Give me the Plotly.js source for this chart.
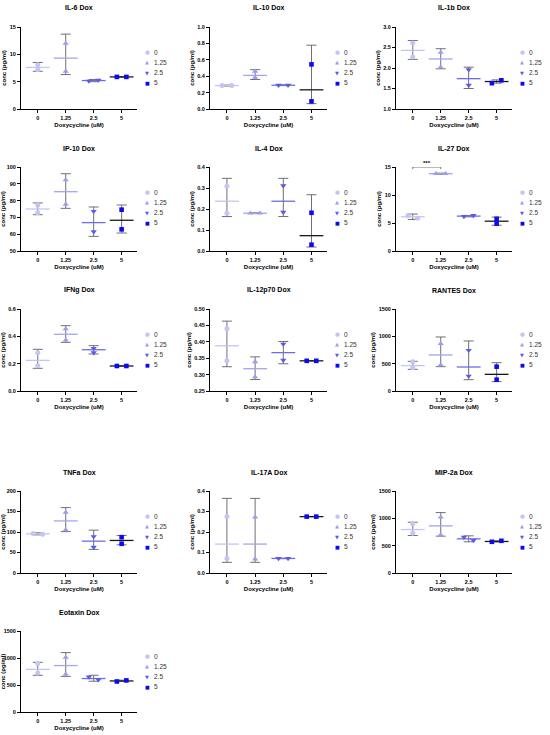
<!DOCTYPE html>
<html><head><meta charset="utf-8">
<script src="https://cdn.plot.ly/plotly-3.0.1.min.js"></script>
<style>html,body{margin:0;padding:0;background:#fff}#chart{width:550px;height:735px}</style>
</head><body><div id="chart"></div>
<script>
// ---------- data ----------
const categories = ["0", "1.25", "2.5", "5"];
const xAxisTitle = "Doxycycline (uM)";
const yAxisTitle = "conc (pg/ml)";
const panelTitles = ["IL-6 Dox","IL-10 Dox","IL-1b Dox","IP-10 Dox","IL-4 Dox","IL-27 Dox",
  "IFNg Dox","IL-12p70 Dox","RANTES Dox","TNFa Dox","IL-17A Dox","MIP-2a Dox","Eotaxin Dox"];
const yMin  = [0, 0, 1.0, 50, 0, 0, 0, 0.25, 0, 0, 0, 0, 0];
const yMax  = [15, 1.0, 3.0, 100, 0.4, 15, 0.6, 0.50, 1500, 200, 0.4, 1500, 1500];
const yStep = [5, 0.2, 0.5, 10, 0.1, 5, 0.2, 0.05, 500, 50, 0.1, 500, 500];
const yFormat = ["", ".1f", ".1f", "", ".1f", "", ".1f", ".2f", "", "", ".1f", "", ""];

// points (two replicates per group), mean line, error bar low / high
const il6Points = [[8.1, 7.2], [12.0, 6.9], [5.1, 5.3], [5.87, 5.87]];
const il6Mean = [7.6, 9.3, 5.2, 5.87];
const il6Low  = [6.9, 6.3, 5.0, 5.8];
const il6High = [8.5, 13.7, 5.4, 5.95];

const il10Points = [[0.286, 0.286], [0.46, 0.385], [0.29, 0.29], [0.544, 0.093]];
const il10Mean = [0.286, 0.41, 0.29, 0.234];
const il10Low  = [0.28, 0.36, 0.285, 0.065];
const il10High = [0.292, 0.48, 0.295, 0.778];

const il1bPoints = [[2.61, 2.27], [2.38, 2.02], [1.96, 1.58], [1.63, 1.70]];
const il1bMean = [2.43, 2.22, 1.74, 1.67];
const il1bLow  = [2.21, 1.98, 1.50, 1.63];
const il1bHigh = [2.67, 2.47, 2.02, 1.71];

const ip10Points = [[77.4, 72.8], [92.3, 77.8], [73.6, 61.5], [74.6, 62.9]];
const ip10Mean = [75.0, 85.3, 66.9, 68.3];
const ip10Low  = [71.6, 75.4, 58.7, 60.7];
const ip10High = [78.6, 96.0, 76.2, 77.4];

const il4Points = [[0.308, 0.18], [0.18, 0.18], [0.311, 0.185], [0.182, 0.030]];
const il4Mean = [0.237, 0.18, 0.237, 0.073];
const il4Low  = [0.164, 0.178, 0.164, 0.019];
const il4High = [0.346, 0.182, 0.346, 0.268];

const il27Points = [[6.35, 5.87], [13.8, 13.8], [6.17, 6.35], [5.75, 4.9]];
const il27Mean = [6.11, 13.8, 6.23, 5.32];
const il27Low  = [5.63, 13.7, 6.1, 4.6];
const il27High = [6.6, 13.9, 6.35, 6.05];
const il27Significance = {from: "0", to: "1.25", label: "***"};

const ifngPoints = [[0.28, 0.185], [0.454, 0.373], [0.312, 0.28], [0.183, 0.183]];
const ifngMean = [0.224, 0.415, 0.302, 0.183];
const ifngLow  = [0.166, 0.356, 0.271, 0.181];
const ifngHigh = [0.305, 0.478, 0.332, 0.185];

const il12Points = [[0.44, 0.342], [0.339, 0.293], [0.393, 0.344], [0.342, 0.342]];
const il12Mean = [0.388, 0.318, 0.367, 0.342];
const il12Low  = [0.324, 0.285, 0.333, 0.341];
const il12High = [0.463, 0.354, 0.401, 0.343];

const rantesPoints = [[537, 427], [866, 476], [744, 274], [445, 207]];
const rantesMean = [463, 659, 439, 305];
const rantesLow  = [396, 445, 207, 171];
const rantesHigh = [543, 988, 915, 518];

const tnfaPoints = [[96.4, 94.7], [148, 105], [89, 63], [87.4, 71.3]];
const tnfaMean = [95.5, 127, 77.7, 79.4];
const tnfaLow  = [93, 101, 57.5, 68.8];
const tnfaHigh = [98, 159.5, 104.5, 91.5];

const il17aPoints = [[0.275, 0.071], [0.272, 0.068], [0.071, 0.071], [0.275, 0.275]];
const il17aMean = [0.141, 0.141, 0.071, 0.275];
const il17aLow  = [0.052, 0.052, 0.070, 0.274];
const il17aHigh = [0.364, 0.364, 0.072, 0.276];

const mip2aPoints = [[899, 729], [1020, 698], [656, 595], [571, 589]];
const mip2aMean = [795, 862, 625, 577];
const mip2aLow  = [686, 674, 571, 568];
const mip2aHigh = [929, 1105, 680, 590];

const eotaxinPoints = [[900, 720], [1010, 700], [650, 595], [565, 585]];
const eotaxinMean = [790, 860, 620, 575];
const eotaxinLow  = [680, 660, 570, 565];
const eotaxinHigh = [920, 1100, 680, 590];

const panelPoints = [il6Points, il10Points, il1bPoints, ip10Points, il4Points, il27Points,
  ifngPoints, il12Points, rantesPoints, tnfaPoints, il17aPoints, mip2aPoints, eotaxinPoints];
const panelMean = [il6Mean, il10Mean, il1bMean, ip10Mean, il4Mean, il27Mean,
  ifngMean, il12Mean, rantesMean, tnfaMean, il17aMean, mip2aMean, eotaxinMean];
const panelLow = [il6Low, il10Low, il1bLow, ip10Low, il4Low, il27Low,
  ifngLow, il12Low, rantesLow, tnfaLow, il17aLow, mip2aLow, eotaxinLow];
const panelHigh = [il6High, il10High, il1bHigh, ip10High, il4High, il27High,
  ifngHigh, il12High, rantesHigh, tnfaHigh, il17aHigh, mip2aHigh, eotaxinHigh];

// ---------- style ----------
const W = 550, H = 735;
const FONT = "Liberation Sans, Arial, sans-serif";
const markerColors = ["#c4c4f5", "#9c9cf2", "#5a5aec", "#0a0af5"];
const meanColors = ["#c4c4f5", "#a4a4f2", "#6c6ce8", "#1a1a1a"];
const symbols = ["circle", "triangle-up", "triangle-down", "square"];
const glyphs = ["\u25CF", "\u25B2", "\u25BC", "\u25A0"];
const colPx = [[21, 137], [210, 327], [396, 512]];
const rowPx = [[27, 109], [167, 251], [309, 391], [491, 573], [631, 712]];

const traces = [];
const layout = {
  width: W, height: H, margin: {l: 0, r: 0, t: 0, b: 0},
  paper_bgcolor: "#fff", plot_bgcolor: "#fff", showlegend: false,
  font: {family: FONT, color: "#000"},
  annotations: [], shapes: []
};

panelTitles.forEach((title, i) => {
  const n = i + 1;
  const xs = n === 1 ? "" : String(n);
  const col = colPx[i % 3], row = rowPx[Math.floor(i / 3)];
  const [c0, c1] = col, [top, bot] = row;
  const pxPerUnit = (bot - top) / (yMax[i] - yMin[i]);
  const tickFont = {family: FONT, size: 5.5, weight: "bold", color: "#000"};
  const titleFont = {family: FONT, size: 6, weight: "bold", color: "#000"};

  layout["xaxis" + xs] = {
    domain: [c0 / W, c1 / W], anchor: "y" + xs, range: [-0.6, 3.55],
    tickmode: "array", tickvals: categories.map((_, k) => k), ticktext: categories,
    showline: true, linecolor: "#000", linewidth: 1, ticks: "outside", ticklen: 3,
    tickwidth: 1, tickcolor: "#000", showgrid: false, zeroline: false,
    tickfont: tickFont, title: {text: xAxisTitle, font: titleFont, standoff: 3},
    fixedrange: true
  };
  layout["yaxis" + xs] = {
    domain: [1 - bot / H, 1 - top / H], anchor: "x" + xs, range: [yMin[i], yMax[i]],
    tick0: yMin[i], dtick: yStep[i], tickformat: yFormat[i],
    showline: true, linecolor: "#000", linewidth: 1, ticks: "outside", ticklen: 3,
    tickwidth: 1, tickcolor: "#000", showgrid: false, zeroline: false,
    tickfont: tickFont, title: {text: yAxisTitle, font: titleFont, standoff: 2},
    fixedrange: true
  };

  // error bars + mean lines
  const mean = panelMean[i];
  traces.push({
    type: "scatter", mode: "markers", xaxis: "x" + xs, yaxis: "y" + xs,
    x: categories.map((_, k) => k), y: mean, hoverinfo: "skip", cliponaxis: false,
    marker: {symbol: "line-ew-open", size: 17, color: meanColors,
             line: {color: meanColors, width: 1.3}},
    error_y: {type: "data", symmetric: false,
              array: mean.map((m, k) => panelHigh[i][k] - m),
              arrayminus: mean.map((m, k) => m - panelLow[i][k]),
              color: "#707070", thickness: 1, width: 5}
  });

  // replicate points
  categories.forEach((cat, g) => {
    const pts = panelPoints[i][g];
    const close = Math.abs(pts[0] - pts[1]) * pxPerUnit < 3.5;
    const xv = pts.map((_, k) => g + (close ? (k === 0 ? -0.17 : 0.17) : 0));
    traces.push({
      type: "scatter", mode: "markers", xaxis: "x" + xs, yaxis: "y" + xs, name: cat,
      x: xv, y: pts, cliponaxis: false,
      marker: {symbol: symbols[g], color: markerColors[g],
               size: g === 3 ? 4.6 : (g === 0 ? 5 : 5.5), line: {width: 0}}
    });
  });

  // panel title
  layout.annotations.push({
    xref: "paper", yref: "paper", x: (c0 + c1) / 2 / W, y: 1 - (top - 19) / H,
    xanchor: "center", yanchor: "middle", showarrow: false, text: title,
    font: {family: FONT, size: 7, weight: "bold", color: "#000"}
  });

  // legend
  categories.forEach((cat, g) => {
    const ly = 1 - (top + 25 + g * 10.3) / H;
    layout.annotations.push({
      xref: "paper", yref: "paper", x: (c1 + 10) / W, y: ly, xanchor: "center",
      yanchor: "middle", showarrow: false, text: glyphs[g],
      font: {family: "DejaVu Sans", size: g === 0 ? 5.5 : 5, color: markerColors[g]}
    });
    layout.annotations.push({
      xref: "paper", yref: "paper", x: (c1 + 15) / W, y: ly, xanchor: "left",
      yanchor: "middle", showarrow: false, text: cat,
      font: {family: FONT, size: 6.5, color: "#333"}
    });
  });
});

// significance bracket on IL-27 panel
(function () {
  const i = 5, xs = "6";
  const a = categories.indexOf(il27Significance.from);
  const b = categories.indexOf(il27Significance.to);
  const yTop = yMax[i];
  const drop = (yMax[i] - yMin[i]) * 0.025;
  layout.shapes.push({
    type: "path", xref: "x" + xs, yref: "y" + xs,
    path: `M ${a} ${yTop - drop} L ${a} ${yTop} L ${b} ${yTop} L ${b} ${yTop - drop}`,
    line: {color: "#555", width: 0.8}
  });
  layout.annotations.push({
    xref: "x" + xs, yref: "y" + xs, x: (a + b) / 2, y: yTop, yanchor: "bottom",
    showarrow: false, text: il27Significance.label, yshift: -1,
    font: {family: FONT, size: 6, weight: "bold", color: "#000"}
  });
})();

Plotly.newPlot("chart", traces, layout, {staticPlot: true, displayModeBar: false});
</script></body></html>
